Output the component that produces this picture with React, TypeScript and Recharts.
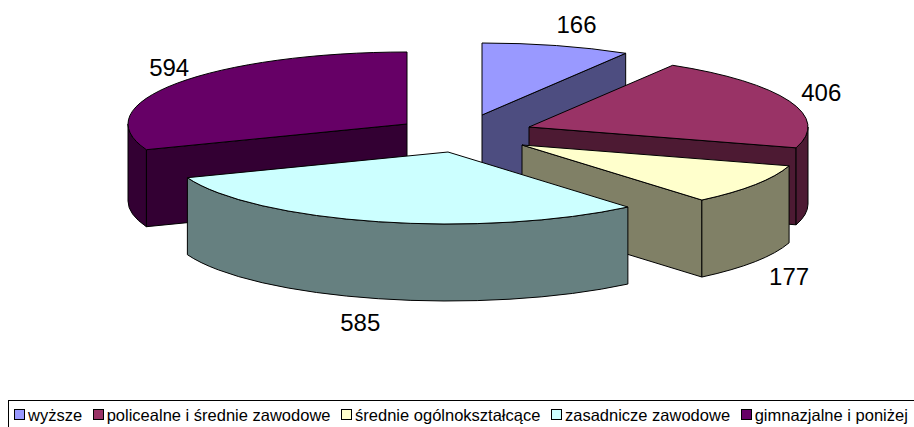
import React from 'react';
import { Legend, Pie, PieChart } from 'recharts';

const categories = ['wyższe', 'policealne i średnie zawodowe', 'średnie ogólnokształcące', 'zasadnicze zawodowe', 'gimnazjalne i poniżej'];
const values = [166, 406, 177, 585, 594];
const topColors = ['#9999FF', '#993366', '#FFFFCC', '#CCFFFF', '#660066'];
const sideColors = ['#4D4D80', '#4D1A33', '#808066', '#668080', '#330033'];

// how far each slice is pulled out of the pie, in px on screen
const explode = [[17, -19], [64, -7], [57, 11], [-17, 18], [-58, -10]];
const labelShift = [[20, -21], [32, -9], [34, 92], [-18, 101], [-8, -16]];

const RX = 279;
const RY = 72;
const DEPTH = 77;
// the last slice sits behind the fourth one, so it has to be painted first
const BACK_SLICE = 4;

const pieData = categories.map((name, idx) => ({
  name,
  value: values[idx],
  fill: topColors[idx],
  side: sideColors[idx],
  idx,
}));

// angle measured clockwise from twelve o'clock, as the pie is drawn
const onRim = (ax: number, ay: number, deg: number) => {
  const a = (deg * Math.PI) / 180;
  return { x: ax + RX * Math.sin(a), y: ay - RY * Math.cos(a) };
};

function Wedge(props: any) {
  const idx = props.idx ?? props.payload?.idx;
  const ax = props.cx + explode[idx][0];
  const ay = props.cy + explode[idx][1];
  const from = 90 - props.startAngle;
  const to = 90 - props.endAngle;
  const a = onRim(ax, ay, from);
  const b = onRim(ax, ay, to);
  const large = to - from > 180 ? 1 : 0;
  const common = { stroke: '#000', strokeWidth: 1, strokeLinejoin: 'round' as const };

  const radialFace = (p: { x: number; y: number }) => (
    <path
      d={`M${ax},${ay} L${p.x},${p.y} L${p.x},${p.y + DEPTH} L${ax},${ay + DEPTH} Z`}
      fill={props.side ?? props.payload?.side}
      {...common}
    />
  );

  const wallFrom = Math.max(from, 90);
  const wallTo = Math.min(to, 270);
  const w0 = onRim(ax, ay, wallFrom);
  const w1 = onRim(ax, ay, wallTo);

  return (
    <g>
      {Math.sin((from * Math.PI) / 180) < -0.01 && radialFace(a)}
      {Math.sin((to * Math.PI) / 180) > 0.01 && radialFace(b)}
      {wallTo > wallFrom && (
        <path
          d={`M${w0.x},${w0.y} A${RX},${RY} 0 0 1 ${w1.x},${w1.y} L${w1.x},${w1.y + DEPTH} A${RX},${RY} 0 0 0 ${w0.x},${w0.y + DEPTH} Z`}
          fill={props.side ?? props.payload?.side}
          {...common}
        />
      )}
      <path
        d={`M${ax},${ay} L${a.x},${a.y} A${RX},${RY} 0 ${large} 1 ${b.x},${b.y} Z`}
        fill={props.fill}
        {...common}
      />
    </g>
  );
}

const backShape = (props: any) => ((props.idx ?? props.payload?.idx) === BACK_SLICE ? <Wedge {...props} /> : null);
const frontShape = (props: any) => ((props.idx ?? props.payload?.idx) === BACK_SLICE ? null : <Wedge {...props} />);

function renderLabel(props: any) {
  const idx = props.idx ?? props.payload?.idx;
  const p = onRim(props.cx + explode[idx][0], props.cy + explode[idx][1], 90 - props.midAngle);
  return (
    <text
      x={p.x + labelShift[idx][0]}
      y={p.y + labelShift[idx][1]}
      textAnchor="middle"
      dominantBaseline="central"
      fontFamily="Liberation Sans"
      fontSize={24}
      fill="#000"
    >
      {props.value}
    </text>
  );
}

function renderLegend() {
  return (
    <div
      style={{
        display: 'flex',
        alignItems: 'center',
        boxSizing: 'border-box',
        width: 930,
        height: 40,
        padding: '0 0 11px 5px',
        border: '1px solid #000',
        fontFamily: 'Liberation Sans',
        fontSize: 16.5,
        lineHeight: '24px',
        color: '#000',
        whiteSpace: 'nowrap',
      }}
    >
      {categories.map((name, i) => (
        <span key={name} style={{ display: 'inline-flex', alignItems: 'center', marginRight: 10.6 }}>
          <span
            style={{
              width: 9,
              height: 9,
              marginRight: 3,
              border: '1px solid #000',
              background: topColors[i],
              display: 'inline-block',
            }}
          />
          {name}
        </span>
      ))}
    </div>
  );
}

export default function App() {
  return (
    <div style={{ position: 'absolute', left: 0, top: 0, width: 914, height: 427, overflow: 'hidden', background: '#fff' }}>
      <PieChart width={914} height={427} margin={{ top: 0, right: 0, bottom: 0, left: 0 }}>
        <Pie
          data={pieData}
          dataKey="value"
          nameKey="name"
          cx={465}
          cy={134}
          outerRadius={RX}
          startAngle={90}
          endAngle={-270}
          legendType="none"
          shape={backShape}
          isAnimationActive={false}
        />
        <Pie
          data={pieData}
          dataKey="value"
          nameKey="name"
          cx={465}
          cy={134}
          outerRadius={RX}
          startAngle={90}
          endAngle={-270}
          shape={frontShape}
          label={renderLabel}
          labelLine={false}
          isAnimationActive={false}
        />
        <Legend content={renderLegend} wrapperStyle={{ position: 'absolute', left: 8, top: 400, width: 930, bottom: 'auto' }} />
      </PieChart>
    </div>
  );
}
